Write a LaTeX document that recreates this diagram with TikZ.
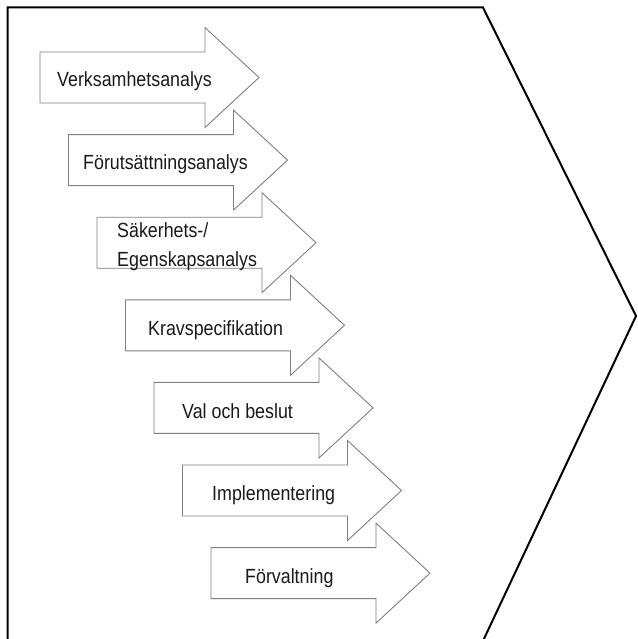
\documentclass[tikz,border=0pt]{standalone}
\usepackage{fontspec}
\newfontfamily\lblfont[FakeStretch=0.87]{Liberation Sans}
\definecolor{arrowgray}{HTML}{7F7F7F}
\definecolor{txtgray}{HTML}{1A1A1A}
\tikzset{
  blockarrow/.style={draw=arrowgray, line width=0.9pt, fill=white, line join=miter},
  frameline/.style={draw=black, line width=2pt, line join=miter},
  lbl/.style={anchor=base west, inner sep=0pt, text=txtgray,
    font=\lblfont\fontsize{20.5}{29}\selectfont, align=left}
}
\begin{document}
\begin{tikzpicture}[x=1pt,y=-1pt]
\useasboundingbox (0,0) rectangle (637,639);
\begin{scope}
\clip (0,0) rectangle (637,639);
\coordinate (f1) at (7.5,660);
\coordinate (f2) at (7.5,7.5);
\coordinate (f3) at (483,7.5);
\coordinate (f4) at (636,316);
\coordinate (f5) at (474,660);
\draw[frameline] (f1) -- (f2) -- (f3) -- (f4) -- (f5);
\end{scope}
\foreach \i in {0,...,6}{
  \pgfmathsetmacro{\L}{40+28.5*\i}
  \pgfmathsetmacro{\C}{77.5+82.6*\i}
  \draw[blockarrow] (\L,\C-25.5) -- (\L+165,\C-25.5) -- (\L+165,\C-50)
     -- (\L+219,\C) -- (\L+165,\C+50) -- (\L+165,\C+25.5) -- (\L,\C+25.5) -- cycle;
}
\node[lbl] (t1) at (57,87) {Verksamhetsanalys};
\node[lbl] (t2) at (83,170) {Förutsättningsanalys};
\node[lbl] (t3) at (117,266) {Säkerhets-/\\Egenskapsanalys};
\node[lbl] (t4) at (148,335) {Kravspecifikation};
\node[lbl] (t5) at (182,418) {Val och beslut};
\node[lbl] (t6) at (212,500) {Implementering};
\node[lbl] (t7) at (245,583) {Förvaltning};
\end{tikzpicture}
\end{document}
